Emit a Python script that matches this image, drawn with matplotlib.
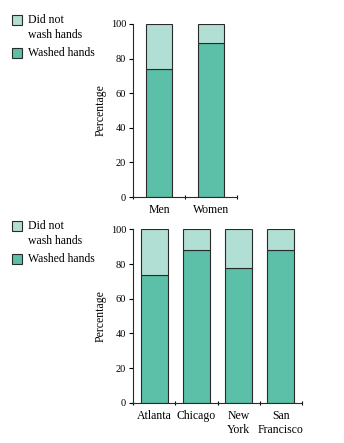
import matplotlib.pyplot as plt
from matplotlib.patches import Rectangle
import numpy as np

plt.rcParams['font.family'] = ['Liberation Serif', 'DejaVu Serif']

# Données
genres = ['Men', 'Women']
genres_lave = [74, 89]

villes = ['Atlanta', 'Chicago', 'New\nYork', 'San\nFrancisco']
villes_lave = [74, 88, 78, 88]

ticks_y = [0, 20, 40, 60, 80, 100]
legende = ['Did not\nwash hands', 'Washed hands']

c_lave = '#5cbfa7'
c_pas = '#b1dfd3'
c_bord = '#2a2a2a'

fig = plt.figure(figsize=(3.44, 4.43), dpi=100)


def panneau(ax, cats, lave, largeur):
    x = np.arange(len(cats))
    lave = np.array(lave)
    ax.bar(x, lave, width=largeur, color=c_lave, edgecolor=c_bord, linewidth=0.8)
    ax.bar(x, 100 - lave, bottom=lave, width=largeur, color=c_pas,
           edgecolor=c_bord, linewidth=0.8)
    ax.set_xlim(-0.5, len(cats) - 0.5)
    ax.set_ylim(0, 100)
    ax.set_yticks(ticks_y)
    ax.set_yticklabels([str(t) for t in ticks_y], fontsize=7.5)
    ax.set_xticks(x)
    ax.set_xticklabels(cats, fontsize=8.5, linespacing=1.25)
    ax.tick_params(axis='x', which='major', length=0, pad=5)
    ax.set_xticks(np.arange(len(cats) + 1) - 0.5, minor=True)
    ax.tick_params(axis='x', which='minor', length=3, direction='inout', width=0.8)
    ax.tick_params(axis='y', length=3, width=0.8, pad=2)
    for s in ['top', 'right']:
        ax.spines[s].set_visible(False)
    for s in ['left', 'bottom']:
        ax.spines[s].set_linewidth(0.8)
        ax.spines[s].set_color(c_bord)
    ax.set_ylabel('Percentage', fontsize=8.5, labelpad=3)


def legende_fig(y_haut):
    # carré + texte, coordonnées en pixels depuis le haut
    H = 443.0
    W = 344.0
    for i, (lab, col) in enumerate(zip(legende, [c_pas, c_lave])):
        y = y_haut + i * 33
        fig.patches.append(Rectangle((12 / W, 1 - (y + 10) / H), 10 / W, 10 / H,
                                     transform=fig.transFigure, facecolor=col,
                                     edgecolor=c_bord, linewidth=0.8))
        fig.text(28 / W, 1 - (y - 1) / H, lab, fontsize=8.5, va='top', ha='left',
                 linespacing=1.35)


ax1 = fig.add_axes([0.387, 0.555, 0.302, 0.391])
panneau(ax1, genres, genres_lave, 0.5)

ax2 = fig.add_axes([0.387, 0.091, 0.491, 0.391])
panneau(ax2, villes, villes_lave, 0.64)

legende_fig(15)
legende_fig(221)

fig.savefig('out.png', dpi=100)
